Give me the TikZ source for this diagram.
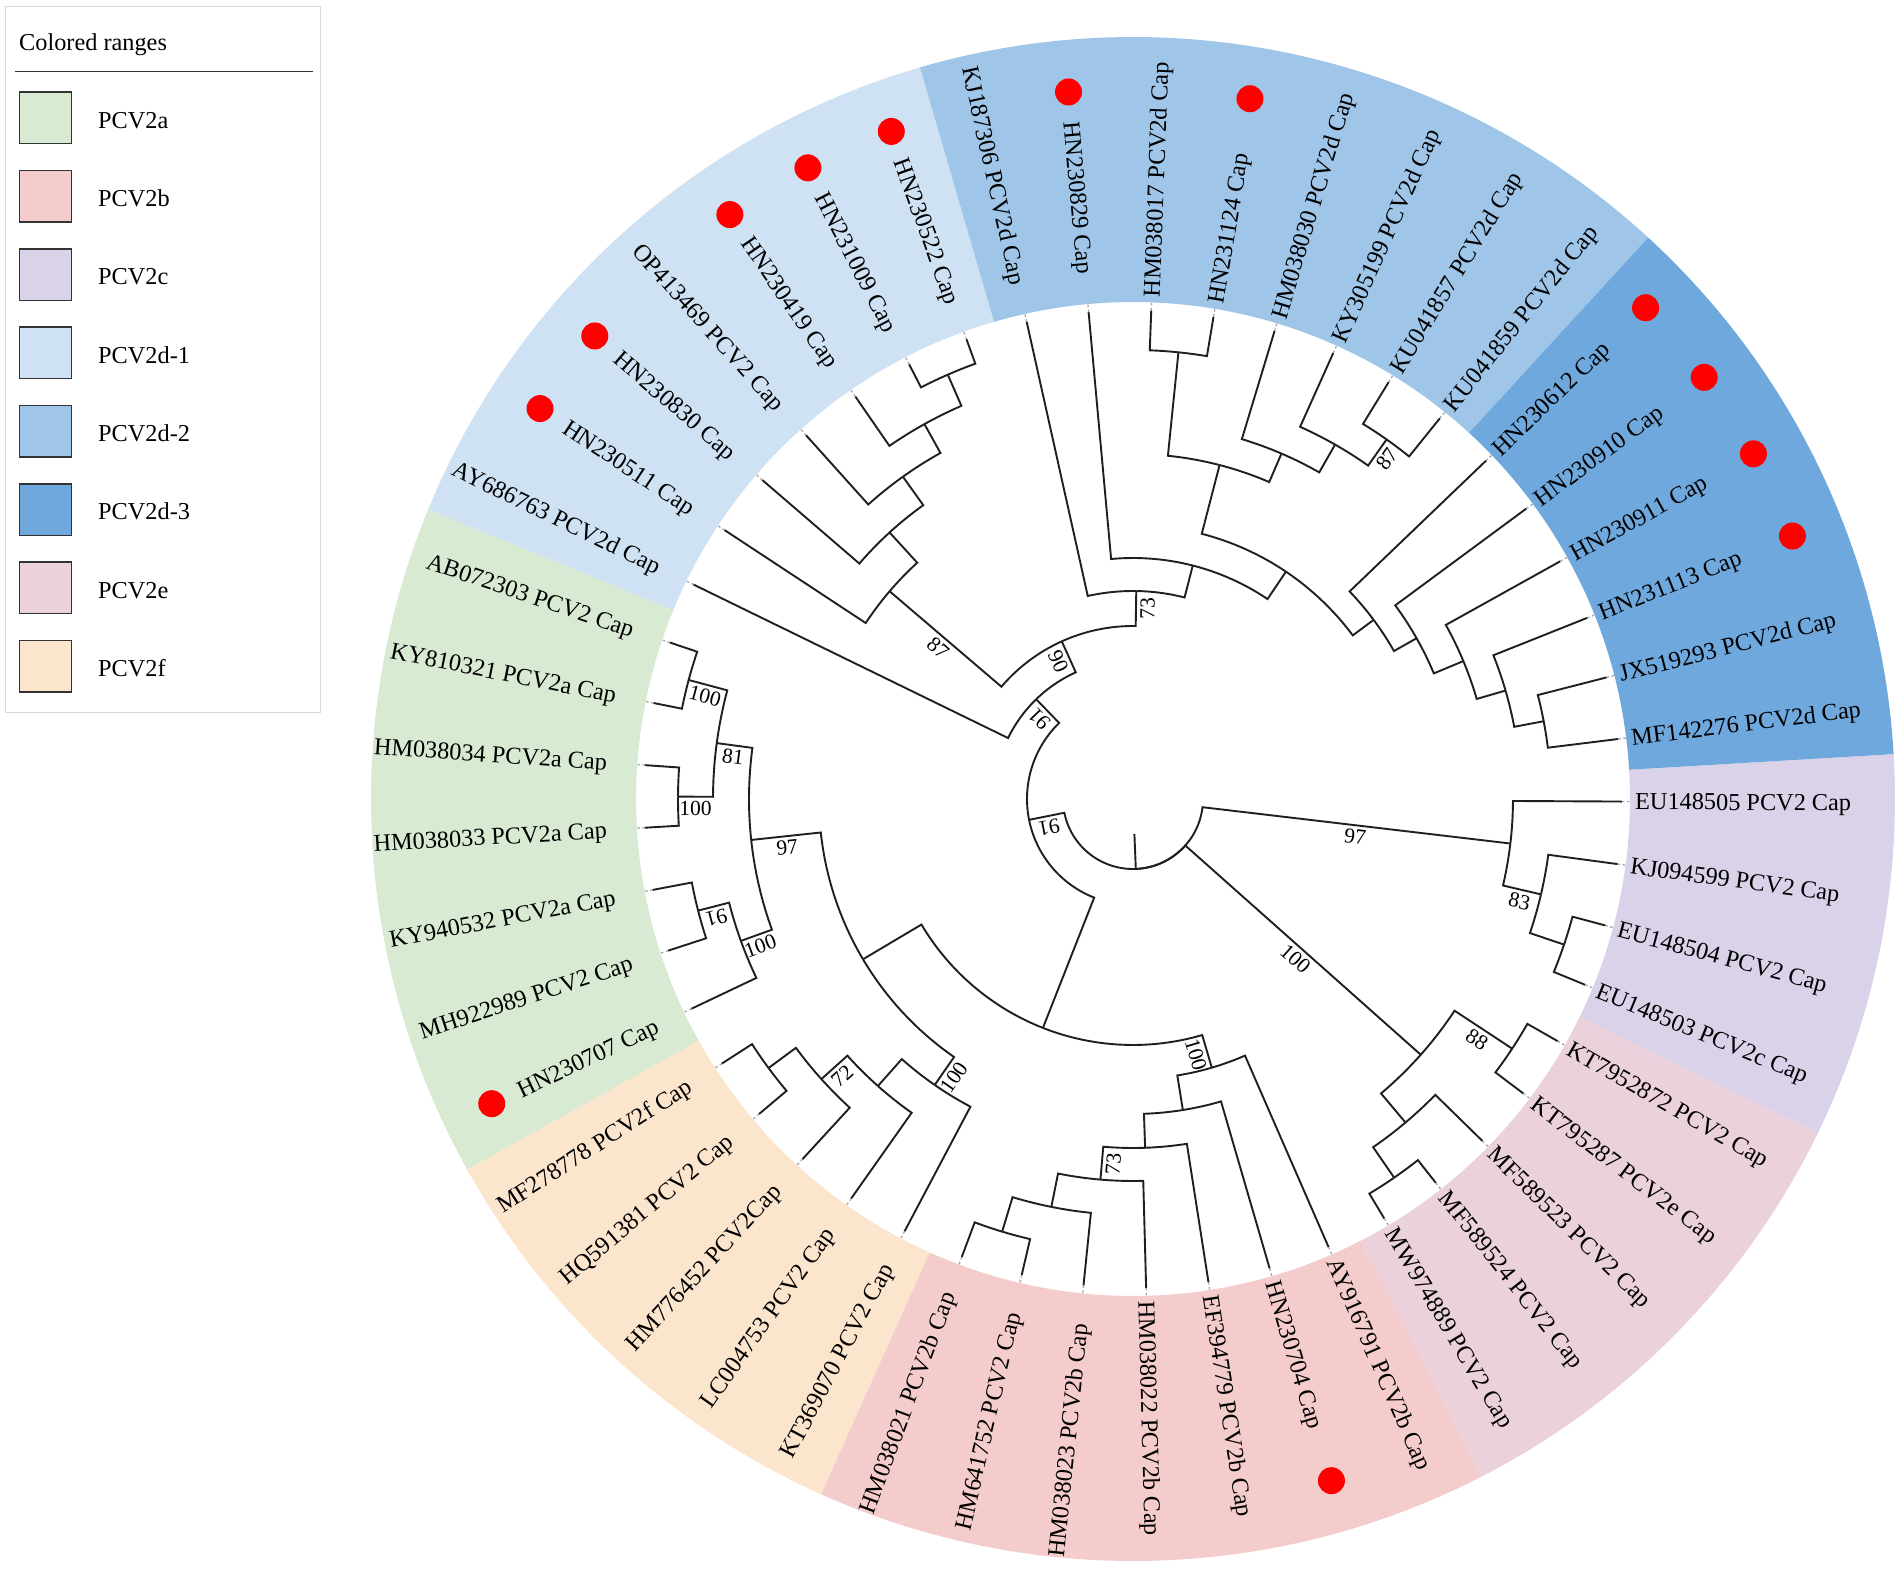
\documentclass[tikz,border=0pt]{standalone}
\usepackage{fontspec}
\setmainfont{Liberation Serif}
\usetikzlibrary{calc}
\definecolor{cA}{HTML}{D9EAD3}
\definecolor{cB}{HTML}{F4CCCC}
\definecolor{cC}{HTML}{D9D2E9}
\definecolor{cDa}{HTML}{CFE2F3}
\definecolor{cDb}{HTML}{9FC5E8}
\definecolor{cDc}{HTML}{6FA8DC}
\definecolor{cE}{HTML}{EAD1DC}
\definecolor{cF}{HTML}{FCE5CD}
\definecolor{dotred}{HTML}{FF0000}
\tikzset{
  branch/.style={line width=1.9pt, black!88},
  tipdots/.style={line width=1.3pt, gray!70, dash pattern=on 2.5pt off 2.5pt},
  leaflabel/.style={inner sep=0pt, text height=16pt, text depth=0pt, font=\fontsize{24.3}{29}\selectfont},
  bslabel/.style={inner sep=0pt, font=\fontsize{21.5}{26}\selectfont},
  legendsw/.style={draw=black!80, line width=1.5pt},
  legendtxt/.style={inner sep=0pt, anchor=west, text height=16pt, text depth=0pt, font=\fontsize{24.3}{29}\selectfont},
}
% branch: parent angle, parent radius, child angle, child radius
\newcommand{\tbr}[4]{\draw[branch] (#3:#4) -- (#3:#2) arc[start angle=#3, end angle=#1, radius=#2];}
% leaf branch: parent angle, parent radius, leaf angle
\newcommand{\tlf}[3]{\tbr{#1}{#2}{#3}{489}\draw[tipdots] (#3:489) -- (#3:499);}
% ring sector
\newcommand{\tsect}[3]{\fill[#1] (#2:497) arc[start angle=#2, end angle=#3, radius=497] -- (#3:762) arc[start angle=#3, end angle=#2, radius=762] -- cycle;}
% leaf label
\newcommand{\tlab}[2]{%
  \pgfmathsetmacro{\tlang}{-0.3-7.346939*#1}%
  \pgfmathsetmacro{\tlcos}{cos(\tlang)}%
  \ifdim\tlcos pt>0pt
    \node[leaflabel, anchor=west, rotate=\tlang] (leaf#1) at (\tlang:502) {#2};%
  \else
    \pgfmathsetmacro{\tlrot}{\tlang+180}%
    \node[leaflabel, anchor=east, rotate=\tlrot] (leaf#1) at (\tlang:527) {#2};%
  \fi}
% red dot
\newcommand{\tdot}[1]{\pgfmathsetmacro{\tdang}{-0.3-7.346939*#1}\fill[dotred] (\tdang:710) circle[radius=13.5];}
% bootstrap label: name, angle, r1, r2, side offset angle, rotation, text
\newcommand{\tbs}[7]{\pgfmathsetmacro{\tbsr}{(#3+#4)/2}\pgfmathsetmacro{\tbsa}{#2+(#5)}\node[bslabel, rotate=#6] (#1) at ($(#2:\tbsr)+(\tbsa:11.5)$) {#7};}

\begin{document}
\begin{tikzpicture}[x=1pt,y=1pt]
\useasboundingbox (-1133,-771) rectangle (769,799);
\fill[white] (-1133,-771) rectangle (769,799);

% ring of coloured ranges
\tsect{cC}{3.373}{-26.013}
\tsect{cE}{-26.013}{-62.753}
\tsect{cB}{-62.753}{-114.173}
\tsect{cF}{-114.173}{-150.913}
\tsect{cA}{-150.913}{-202.343}
\tsect{cDa}{-202.343}{-253.763}
\tsect{cDb}{-253.763}{-312.543}
\tsect{cDc}{-312.543}{-356.623}

% root
\draw[branch] (-87.7:35) -- (-87.7:70);
\tbr{-87.7}{70}{-168.665}{106}
\tbr{-87.7}{70}{-41.625}{385}
\tbr{-87.7}{70}{-6.73}{380}
% PCV2c
\tlf{-6.73}{380}{-0.30}
\tbr{-6.73}{380}{-13.16}{419}
\tlf{-13.16}{419}{-7.65}
\tbr{-13.16}{419}{-18.665}{455}
\tlf{-18.665}{455}{-14.99}
\tlf{-18.665}{455}{-22.34}
% PCV2e
\tbr{-41.625}{385}{-33.36}{454}
\tlf{-33.36}{454}{-29.69}
\tlf{-33.36}{454}{-37.03}
\tbr{-41.625}{385}{-49.89}{423}
\tlf{-49.89}{423}{-44.38}
\tbr{-49.89}{423}{-55.405}{460}
\tlf{-55.405}{460}{-51.73}
\tlf{-55.405}{460}{-59.08}
% N1
\tbr{-168.665}{106}{-111.48}{246}
\tbr{-168.665}{106}{-225.85}{139}
% N3
\tbr{-111.48}{246}{-73.655}{280}
\tbr{-111.48}{246}{-149.31}{314}
% PCV2b
\tlf{-73.655}{280}{-66.42}
\tbr{-73.655}{280}{-80.89}{315}
\tlf{-80.89}{315}{-73.77}
\tbr{-80.89}{315}{-88.005}{349}
\tlf{-88.005}{349}{-81.12}
\tbr{-88.005}{349}{-94.89}{382}
\tlf{-94.89}{382}{-88.46}
\tbr{-94.89}{382}{-101.32}{416}
\tlf{-101.32}{416}{-95.81}
\tbr{-101.32}{416}{-106.83}{452}
\tlf{-106.83}{452}{-103.16}
\tlf{-106.83}{452}{-110.50}
% N4
\tbr{-149.31}{314}{-124.74}{348}
\tbr{-149.31}{314}{-173.875}{384}
% PCV2f
\tlf{-124.74}{348}{-117.85}
\tbr{-124.74}{348}{-131.63}{384}
\tlf{-131.63}{384}{-125.20}
\tbr{-131.63}{384}{-138.05}{419}
\tlf{-138.05}{419}{-132.54}
\tbr{-138.05}{419}{-143.565}{453}
\tlf{-143.565}{453}{-139.89}
\tlf{-143.565}{453}{-147.24}
% PCV2a
\tbr{-173.875}{384}{-160.10}{417}
\tbr{-173.875}{384}{-187.65}{420}
\tlf{-160.10}{417}{-154.59}
\tbr{-160.10}{417}{-165.605}{449}
\tlf{-165.605}{449}{-161.93}
\tlf{-165.605}{449}{-169.28}
\tbr{-187.65}{420}{-180.30}{455}
\tbr{-187.65}{420}{-194.995}{460}
\tlf{-180.30}{455}{-176.63}
\tlf{-180.30}{455}{-183.97}
\tlf{-194.995}{460}{-191.32}
\tlf{-194.995}{460}{-198.67}
% N2
\tlf{-225.85}{139}{-206.01}
\tbr{-225.85}{139}{-245.69}{173}
% N9
\tbr{-245.69}{173}{-220.48}{320}
\tbr{-245.69}{173}{-270.90}{208}
% PCV2d-1
\tlf{-220.48}{320}{-213.36}
\tbr{-220.48}{320}{-227.595}{361}
\tlf{-227.595}{361}{-220.71}
\tbr{-227.595}{361}{-234.48}{396}
\tlf{-234.48}{396}{-228.05}
\tbr{-234.48}{396}{-240.91}{429}
\tlf{-240.91}{429}{-235.40}
\tbr{-240.91}{429}{-246.42}{463}
\tlf{-246.42}{463}{-242.75}
\tlf{-246.42}{463}{-250.09}
% N11
\tlf{-270.90}{208}{-257.44}
\tbr{-270.90}{208}{-284.36}{241}
\tlf{-284.36}{241}{-264.79}
\tbr{-284.36}{241}{-303.935}{274}
\tbr{-303.935}{274}{-284.535}{345}
\tbr{-303.935}{274}{-323.335}{300}
% N18
\tbr{-284.535}{345}{-275.81}{449}
\tlf{-275.81}{449}{-272.14}
\tlf{-275.81}{449}{-279.48}
\tbr{-284.535}{345}{-293.26}{376}
\tlf{-293.26}{376}{-286.83}
\tbr{-293.26}{376}{-299.69}{408}
\tlf{-299.69}{408}{-294.18}
\tbr{-299.69}{408}{-305.195}{440}
\tlf{-305.195}{440}{-301.52}
\tlf{-305.195}{440}{-308.87}
% N19
\tlf{-323.335}{300}{-316.22}
\tbr{-323.335}{300}{-330.45}{326}
\tlf{-330.45}{326}{-323.56}
\tbr{-330.45}{326}{-337.34}{358}
\tlf{-337.34}{358}{-330.91}
\tbr{-337.34}{358}{-343.77}{388}
\tlf{-343.77}{388}{-338.26}
\tbr{-343.77}{388}{-349.275}{418}
\tlf{-349.275}{418}{-345.60}
\tlf{-349.275}{418}{-352.95}

% bootstrap values
\tbs{b1}{-6.73}{70}{380}{-90}{-6.73}{97}
\tbs{b2}{-41.625}{70}{385}{-90}{-41.625}{100}
\tbs{b3}{-13.16}{380}{419}{-90}{-13.16}{83}
\tbs{b4}{-33.36}{385}{454}{-90}{-33.36}{88}
\tbs{b5}{-305.195}{408}{440}{-90}{54.805}{87}
\tbs{b6}{-270.90}{173}{208}{-90}{89.1}{73}
\tbs{b7}{-245.69}{139}{173}{90}{-65.69}{90}
\tbs{b8}{-220.48}{173}{320}{90}{-40.48}{87}
\tbs{b9}{-225.85}{106}{139}{90}{134.15}{91}
\tbs{b10}{-168.665}{70}{106}{90}{191.335}{91}
\tbs{b11}{-173.875}{314}{384}{90}{6.125}{97}
\tbs{b12}{-187.65}{384}{420}{90}{-7.65}{81}
\tbs{b13}{-194.995}{420}{460}{90}{-14.995}{100}
\tbs{b14}{-180.30}{420}{455}{90}{-0.30}{100}
\tbs{b15}{-165.605}{417}{449}{90}{194.395}{91}
\tbs{b16}{-160.10}{384}{417}{90}{19.90}{100}
\tbs{b17}{-138.05}{384}{419}{90}{41.95}{72}
\tbs{b18}{-124.74}{314}{348}{90}{55.26}{100}
\tbs{b19}{-73.655}{246}{280}{-90}{-73.655}{100}
\tbs{b20}{-94.89}{349}{382}{90}{85.11}{73}

% leaf labels
\tlab{0}{EU148505 PCV2 Cap}
\tlab{1}{KJ094599 PCV2 Cap}
\tlab{2}{EU148504 PCV2 Cap}
\tlab{3}{EU148503 PCV2c Cap}
\tlab{4}{KT7952872 PCV2 Cap}
\tlab{5}{KT795287 PCV2e Cap}
\tlab{6}{MF589523 PCV2 Cap}
\tlab{7}{MF589524 PCV2 Cap}
\tlab{8}{MW974889 PCV2 Cap}
\tlab{9}{AY916791 PCV2b Cap}
\tlab{10}{HN230704 Cap}
\tlab{11}{EF394779 PCV2b Cap}
\tlab{12}{HM038022 PCV2b Cap}
\tlab{13}{HM038023 PCV2b Cap}
\tlab{14}{HM641752 PCV2 Cap}
\tlab{15}{HM038021 PCV2b Cap}
\tlab{16}{KT369070 PCV2 Cap}
\tlab{17}{LC004753 PCV2 Cap}
\tlab{18}{HM776452 PCV2Cap}
\tlab{19}{HQ591381 PCV2 Cap}
\tlab{20}{MF278778 PCV2f Cap}
\tlab{21}{HN230707 Cap}
\tlab{22}{MH922989 PCV2 Cap}
\tlab{23}{KY940532 PCV2a Cap}
\tlab{24}{HM038033 PCV2a Cap}
\tlab{25}{HM038034 PCV2a Cap}
\tlab{26}{KY810321 PCV2a Cap}
\tlab{27}{AB072303 PCV2 Cap}
\tlab{28}{AY686763 PCV2d Cap}
\tlab{29}{HN230511 Cap}
\tlab{30}{HN230830 Cap}
\tlab{31}{OP413469 PCV2 Cap}
\tlab{32}{HN230419 Cap}
\tlab{33}{HN231009 Cap}
\tlab{34}{HN230522 Cap}
\tlab{35}{KJ187306 PCV2d Cap}
\tlab{36}{HN230829 Cap}
\tlab{37}{HM038017 PCV2d Cap}
\tlab{38}{HN231124 Cap}
\tlab{39}{HM038030 PCV2d Cap}
\tlab{40}{KY305199 PCV2d Cap}
\tlab{41}{KU041857 PCV2d Cap}
\tlab{42}{KU041859 PCV2d Cap}
\tlab{43}{HN230612 Cap}
\tlab{44}{HN230910 Cap}
\tlab{45}{HN230911 Cap}
\tlab{46}{HN231113 Cap}
\tlab{47}{JX519293 PCV2d Cap}
\tlab{48}{MF142276 PCV2d Cap}

% red dots
\foreach \i in {10,21,29,30,32,33,34,36,38,43,44,45,46}{\tdot{\i}}

% legend
\draw[gray!30, line width=1pt] (-1127,792) rectangle (-812,86);
\node[legendtxt] (legtitle) at (-1114,756.5) {Colored ranges};
\draw[black!80, line width=1.5pt] (-1118,727.4) -- (-820,727.4);
\foreach \k/\c/\t in {0/cA/PCV2a,1/cB/PCV2b,2/cC/PCV2c,3/cDa/PCV2d-1,4/cDb/PCV2d-2,5/cDc/PCV2d-3,6/cE/PCV2e,7/cF/PCV2f}{
  \pgfmathsetmacro{\ytop}{706.8-78.33*\k}
  \pgfmathsetmacro{\ybot}{\ytop-51.5}
  \pgfmathsetmacro{\ymid}{\ytop-28}
  \draw[legendsw, fill=\c] (-1113.6,\ytop) rectangle (-1061.4,\ybot);
  \node[legendtxt] (leg\k) at (-1035,\ymid) {\t};
}
\end{tikzpicture}
\end{document}
